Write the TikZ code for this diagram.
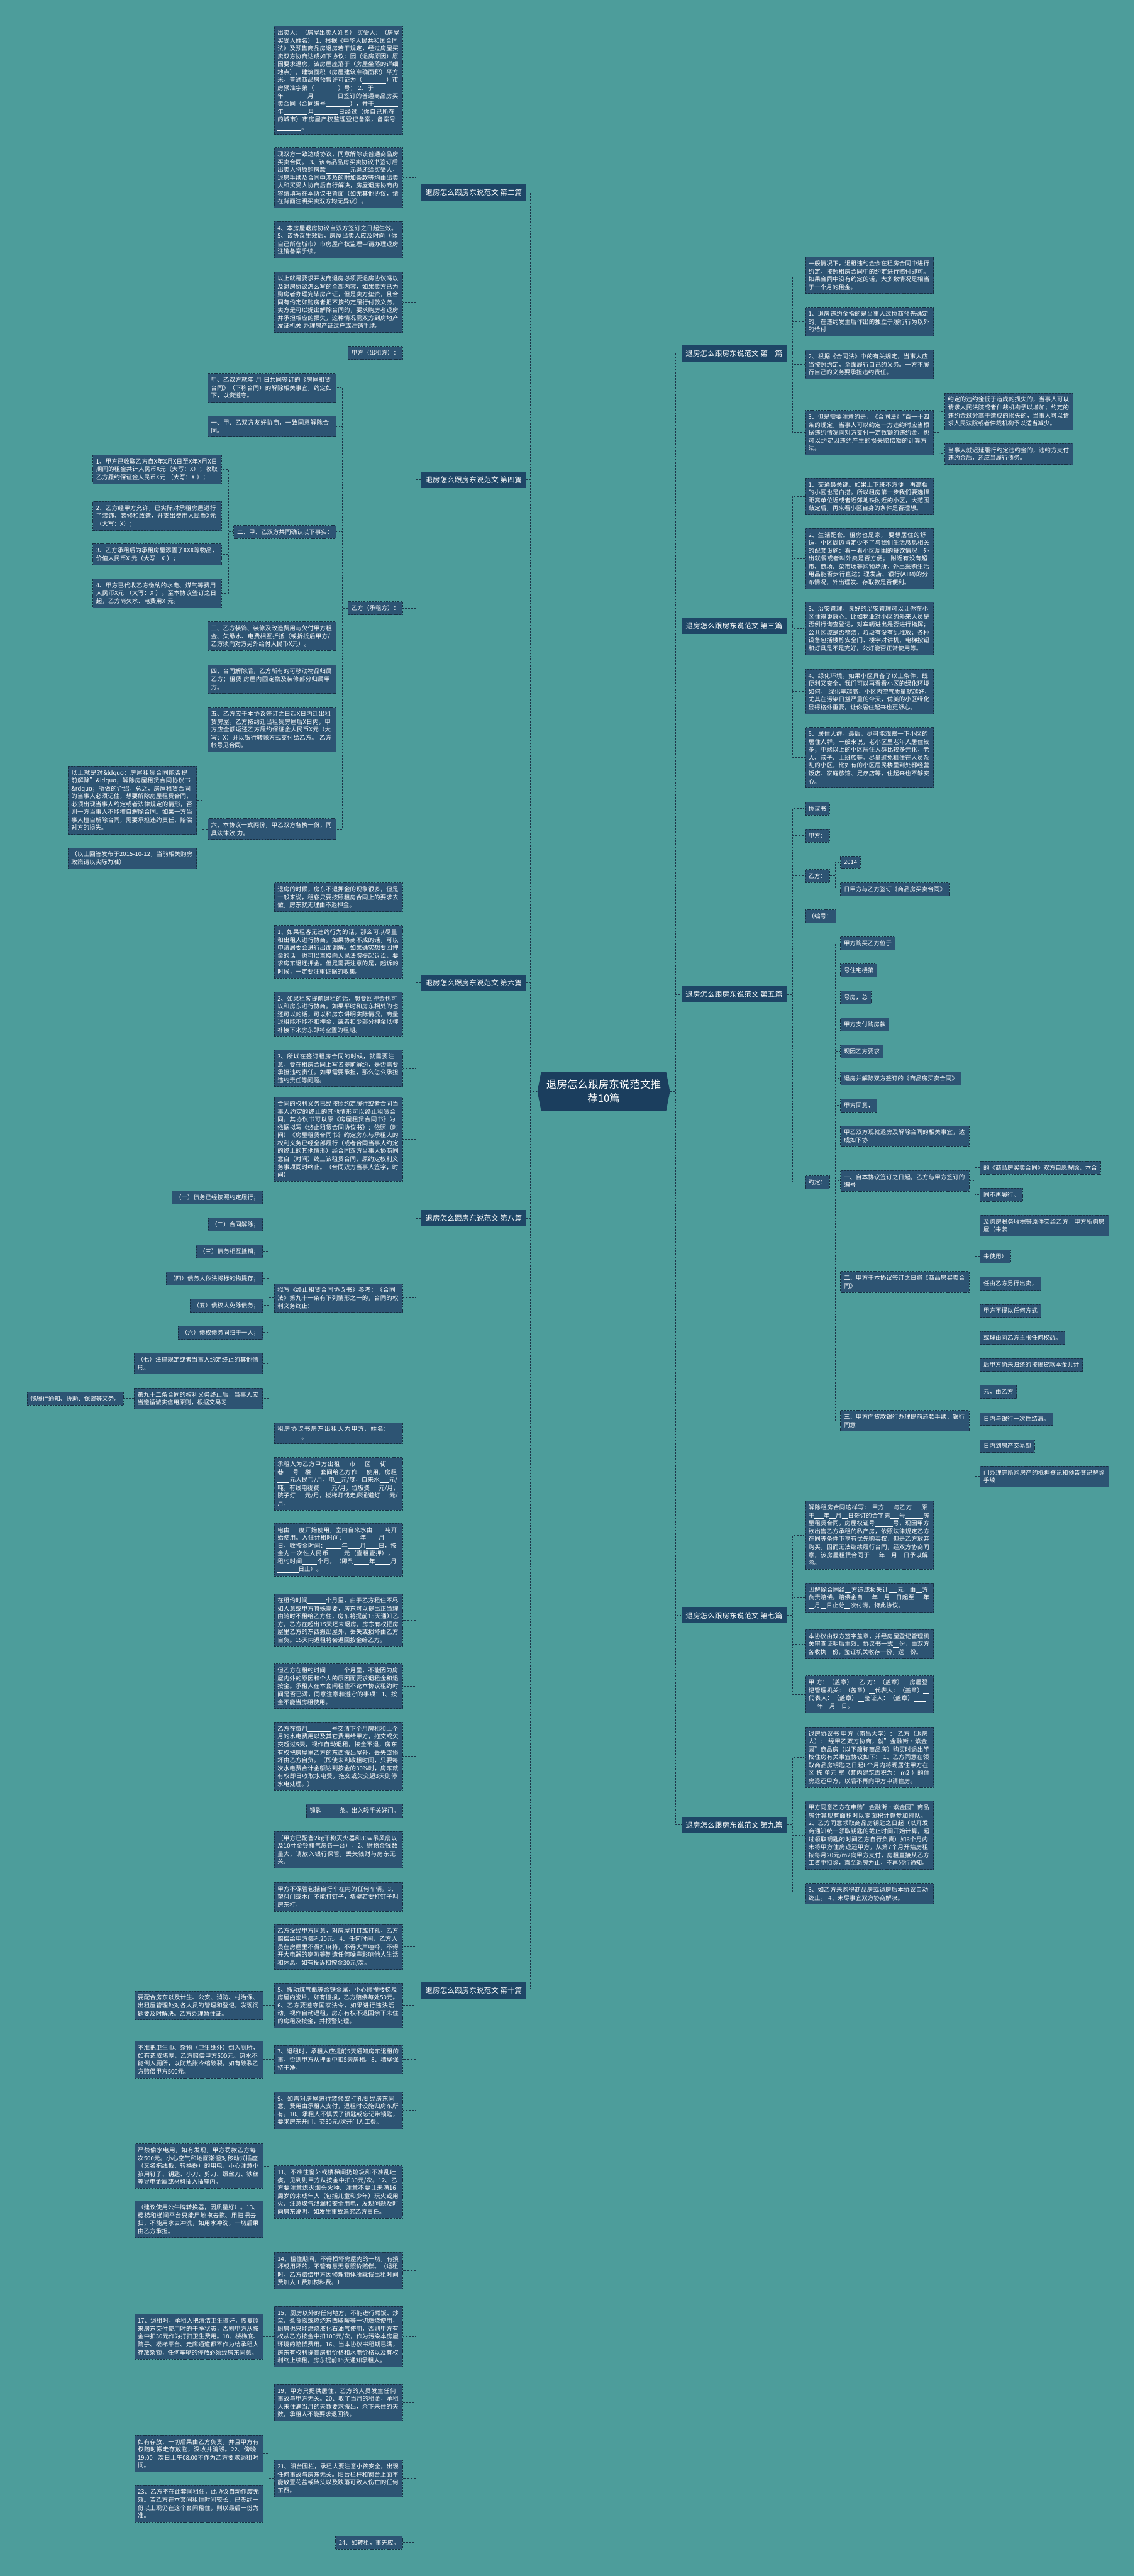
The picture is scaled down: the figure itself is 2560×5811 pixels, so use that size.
\documentclass[tikz,border=0pt]{standalone}
\usepackage{fontspec}
\setmainfont{Noto Sans CJK SC}
\usetikzlibrary{shapes.symbols}
\XeTeXlinebreaklocale "zh"
\XeTeXlinebreakskip=0pt plus 1pt
\newcommand{\fillin}[1]{\hskip0pt plus 1pt\rule[-0.15em]{#1em}{0.06em}\hskip0pt plus 1pt}

\begin{document}
\begin{tikzpicture}[x=0.5pt, y=-0.5pt, line join=round,
    leaf/.style={draw=leafedge, dash pattern=on 2pt off 1.2pt, line width=0.6pt, fill=leafblue, text=white,
        font=\fontsize{6.75}{8.9}\selectfont, inner xsep=3.7pt, inner ysep=4.2pt, align=left},
    para/.style={leaf, text width=137.5pt},
    branch/.style={fill=branchblue, text=white, font=\fontsize{8.25}{10}\selectfont, inner xsep=4.8pt, inner ysep=5.3pt},
    rootnode/.style={shape=signal, signal to=west and east, signal pointer angle=158, fill=rootblue, text=white,
        font=\fontsize{11.75}{15.8}\selectfont, align=center, inner xsep=5.9pt, inner ysep=8.5pt},
    link/.style={draw=linkgray, dash pattern=on 2pt off 1.5pt, line width=0.7pt}]

    % Define custom colors to match the image
    \definecolor{bgteal}{RGB}{77,157,155}
    \definecolor{leafblue}{RGB}{45,84,115}
    \definecolor{leafedge}{RGB}{24,48,68}
    \definecolor{branchblue}{RGB}{30,70,102}
    \definecolor{rootblue}{RGB}{27,62,94}
    \definecolor{linkgray}{RGB}{28,52,72}

    % background
    \fill[bgteal] (0,0) rectangle (2560,5811);
    \useasboundingbox (0,0) rectangle (2560,5811);

    % =======================================================
    % ROOT AND BRANCHES
    % =======================================================
    \node[rootnode] (root) at (1362,2462) {退房怎么跟房东说范文推\\荐10篇};

    \node[branch, anchor=east] (b2) at (1188,434) {退房怎么跟房东说范文 第二篇};
    \node[branch, anchor=east] (b4) at (1188,1082) {退房怎么跟房东说范文 第四篇};
    \node[branch, anchor=east] (b6) at (1188,2217) {退房怎么跟房东说范文 第六篇};
    \node[branch, anchor=east] (b8) at (1188,2748) {退房怎么跟房东说范文 第八篇};
    \node[branch, anchor=east] (b10) at (1188,4490) {退房怎么跟房东说范文 第十篇};

    \node[branch, anchor=west] (b1) at (1537,797) {退房怎么跟房东说范文 第一篇};
    \node[branch, anchor=west] (b3) at (1537,1412) {退房怎么跟房东说范文 第三篇};
    \node[branch, anchor=west] (b5) at (1537,2243) {退房怎么跟房东说范文 第五篇};
    \node[branch, anchor=west] (b7) at (1537,3644) {退房怎么跟房东说范文 第七篇};
    \node[branch, anchor=west] (b9) at (1537,4117) {退房怎么跟房东说范文 第九篇};

    \foreach \kid in {b2,b4,b6,b8,b10} {
        \draw[link] (root.west) -- ++(-15,0) |- (\kid.east);
    }
    \foreach \kid in {b1,b3,b5,b7,b9} {
        \draw[link] (root.east) -- ++(12,0) |- (\kid.west);
    }

    % =======================================================
    % LEFT: 第二篇
    % =======================================================
    \node[para, anchor=east] (b2a) at (909,181) {出卖人：（房屋出卖人姓名） 买受人：（房屋买受人姓名） 1、根据《中华人民共和国合同法》及预售商品房退房若干规定，经过房屋买卖双方协商达成如下协议：因（退房原因）原因要求退房，该房屋座落于（房屋坐落的详细地点），建筑面积（房屋建筑准确面积）平方米，普通商品房预售许可证为（\fillin{4}）市房预准字第（\fillin{4}）号； 2、于\fillin{4}年\fillin{4}月\fillin{4}日签订的普通商品房买卖合同（合同编号\fillin{4}），并于\fillin{4}年\fillin{4}月\fillin{4}日经过（你自己所在的城市）市房屋产权监理登记备案，备案号\fillin{4}。};
    \node[para, anchor=east] (b2b) at (909,401) {现双方一致达成协议，同意解除该普通商品房买卖合同。 3、该商品品房买卖协议书签订后出卖人将原购房款\fillin{4}元退还给买受人，退房手续及合同中涉及的附加条款等均由出卖人和买受人协商后自行解决，房屋退房协商内容请填写在本协议书背面（如无其他协议，请在背面注明买卖双方均无异议）。};
    \node[para, anchor=east] (b2c) at (909,541) {4、本房屋退房协议自双方签订之日起生效。 5、该协议生效后，房屋出卖人应及时向（你自己所在城市）市房屋产权监理申请办理退房注销备案手续。};
    \node[para, anchor=east] (b2d) at (909,682) {以上就是要求开发商退房必须要退房协议吗以及退房协议怎么写的全部内容，如果卖方已为购房者办理完毕房产证，但是卖方垫资，且合同有约定如购房者拒不按约定履行付款义务，卖方是可以提出解除合同的，要求购房者退房并承担相应的损失，这种情况需双方到房地产发证机关 办理房产证过户或注销手续。};
    \foreach \kid in {b2a,b2b,b2c,b2d} {
        \draw[link] (b2.west) -- ++(-12,0) |- (\kid.east);
    }

    % =======================================================
    % LEFT: 第四篇
    % =======================================================
    \node[leaf, anchor=east] (jia4) at (909,796) {甲方（出租方）：};
    \node[leaf, anchor=east] (yi4) at (909,1372) {乙方（承租方）：};
    \foreach \kid in {jia4,yi4} {
        \draw[link] (b4.west) -- ++(-12,0) |- (\kid.east);
    }

    \node[para, anchor=east] (y4a) at (759,875) {甲、乙双方就年 月 日共同签订的《房屋租赁合同》（下称合同）的解除相关事宜，约定如下，以资遵守。};
    \node[para, anchor=east] (y4b) at (759,962) {一、甲、乙双方友好协商，一致同意解除合同。};
    \node[leaf, anchor=east] (y4c) at (759,1200) {二、甲、乙双方共同确认以下事实：};
    \node[para, anchor=east] (y4d) at (759,1435) {三、乙方装饰、装修及改造费用与欠付甲方租金、欠缴水、电费相互折抵（或折抵后甲方/乙方须向对方另外给付人民币X元）。};
    \node[para, anchor=east] (y4e) at (759,1532) {四、合同解除后，乙方所有的可移动物品归属乙方；租赁 房屋内固定物及装修部分归属甲方。};
    \node[para, anchor=east] (y4f) at (759,1646) {五、乙方应于本协议签订之日起X日内迁出租赁房屋。乙方按约迁出租赁房屋后X日内，甲方应全额返还乙方履约保证金人民币X元（大写：X）并以银行转帐方式支付给乙方。 乙方帐号见合同。};
    \node[para, anchor=east] (y4g) at (759,1870) {六、本协议一式两份，甲乙双方各执一份，同具法律效 力。};
    \foreach \kid in {y4a,y4b,y4c,y4d,y4e,y4f,y4g} {
        \draw[link] (yi4.west) -- ++(-12,0) |- (\kid.east);
    }

    \node[para, anchor=east] (e4a) at (500,1059) {1、甲方已收取乙方自X年X月X日至X年X月X日期间的租金共计人民币X元（大写：X）；收取乙方履约保证金人民币X元 （大写：X ）；};
    \node[para, anchor=east] (e4b) at (500,1164) {2、乙方经甲方允许，已实际对承租房屋进行了装饰、装修和改造，并支出费用人民币X元（大写：X）；};
    \node[para, anchor=east] (e4c) at (500,1251) {3、乙方承租后为承租房屋添置了XXX等物品，价值人民币X 元（大写：X ）；};
    \node[para, anchor=east] (e4d) at (500,1338) {4、甲方已代收乙方缴纳的水电、煤气等费用人民币X元 （大写：X ）。至本协议签订之日起，乙方尚欠水、电费用X 元。};
    \foreach \kid in {e4a,e4b,e4c,e4d} {
        \draw[link] (y4c.west) -- ++(-12,0) |- (\kid.east);
    }

    \node[para, anchor=east] (g4a) at (444,1805) {以上就是对\&ldquo；房屋租赁合同能否提前解除"\&ldquo；解除房屋租赁合同协议书\&rdquo；所做的介绍。总之，房屋租赁合同的当事人必须记住，想要解除房屋租赁合同，必须出现当事人约定或者法律规定的情形，否则一方当事人不能擅自解除合同。如果一方当事人擅自解除合同，需要承担违约责任，赔偿对方的损失。};
    \node[para, anchor=east] (g4b) at (444,1936) {（以上回答发布于2015-10-12，当前相关购房政策请以实际为准）};
    \foreach \kid in {g4a,g4b} {
        \draw[link] (y4g.west) -- ++(-12,0) |- (\kid.east);
    }

    % =======================================================
    % LEFT: 第六篇
    % =======================================================
    \node[para, anchor=east] (b6a) at (909,2024) {退房的时候，房东不退押金的现象很多，但是一般来说，租客只要按照租房合同上的要求去做，房东就无理由不退押金。};
    \node[para, anchor=east] (b6b) at (909,2147) {1、如果租客无违约行为的话，那么可以尽量和出租人进行协商。如果协商不成的话，可以申请居委会进行出面调解。如果确实想要回押金的话，也可以直接向人民法院提起诉讼，要求房东退还押金。但是需要注意的是，起诉的时候，一定要注重证据的收集。};
    \node[para, anchor=east] (b6c) at (909,2288) {2、如果租客提前退租的话，想要回押金也可以和房东进行协商。如果平时和房东相处的也还可以的话，可以和房东讲明实际情况，商量退租能不能不扣押金，或者扣少部分押金以弥补接下来房东即将空置的租期。};
    \node[para, anchor=east] (b6d) at (909,2410) {3、所以在签订租房合同的时候，就需要注意。要在租房合同上写名提前解约，是否需要承担违约责任。如果需要承担，那么怎么承担违约责任等问题。};
    \foreach \kid in {b6a,b6b,b6c,b6d} {
        \draw[link] (b6.west) -- ++(-12,0) |- (\kid.east);
    }

    % =======================================================
    % LEFT: 第八篇
    % =======================================================
    \node[para, anchor=east] (b8a) at (909,2570) {合同的权利义务已经按照约定履行或者合同当事人约定的终止的其他情形可以终止租赁合同。其协议书可以原《房屋租赁合同书》为依据拟写《终止租赁合同协议书》：依照（时间）《房屋租赁合同书》约定房东与承租人的权利义务已经全部履行（或者合同当事人约定的终止的其他情形）经合同双方当事人协商同意自（时间）终止该租赁合同，原约定权利义务事项同时终止。（合同双方当事人签字，时间）};
    \node[para, anchor=east] (b8b) at (909,2928) {拟写《终止租赁合同协议书》参考：《合同法》第九十一条有下列情形之一的，合同的权利义务终止：};
    \foreach \kid in {b8a,b8b} {
        \draw[link] (b8.west) -- ++(-12,0) |- (\kid.east);
    }

    \node[leaf, anchor=east] (k1) at (593,2701) {（一）债务已经按照约定履行；};
    \node[leaf, anchor=east] (k2) at (593,2762) {（二）合同解除；};
    \node[leaf, anchor=east] (k3) at (593,2823) {（三）债务相互抵销；};
    \node[leaf, anchor=east] (k4) at (593,2884) {（四）债务人依法将标的物提存；};
    \node[leaf, anchor=east] (k5) at (593,2945) {（五）债权人免除债务；};
    \node[leaf, anchor=east] (k6) at (593,3006) {（六）债权债务同归于一人；};
    \node[para, anchor=east] (k7) at (593,3076) {（七）法律规定或者当事人约定终止的其他情形。};
    \node[para, anchor=east] (k8) at (593,3155) {第九十二条合同的权利义务终止后，当事人应当遵循诚实信用原则，根据交易习};
    \foreach \kid in {k1,k2,k3,k4,k5,k6,k7,k8} {
        \draw[link] (b8b.west) -- ++(-12,0) |- (\kid.east);
    }
    \node[leaf, anchor=east] (k8a) at (279,3155) {惯履行通知、协助、保密等义务。};
    \draw[link] (k8.west) -- (k8a.east);

    % =======================================================
    % LEFT: 第十篇
    % =======================================================
    \node[para, anchor=east] (t01) at (909,3233) {租房协议书房东出租人为甲方，姓名：\fillin{4}。};
    \node[para, anchor=east] (t02) at (909,3347) {承租人为乙方甲方出租\fillin{1.5}市\fillin{1.5}区\fillin{1.5}街\fillin{1.5}巷\fillin{1.5}号\fillin{1}楼\fillin{1.5}套间给乙方作\fillin{1.5}使用，房租\fillin{2}元人民币/月，电\fillin{1}元/度，自来水\fillin{1.5}元/吨。有线电视费\fillin{2}元/月，垃圾费\fillin{1.5}元/月，院子灯\fillin{1.5}元/月，楼梯灯或走廊通道灯\fillin{1.5}元/月。};
    \node[para, anchor=east] (t03) at (909,3496) {电由\fillin{1.5}度开始使用，室内自来水由\fillin{2}吨开始使用。入住计租时间：\fillin{2.5}年\fillin{2}月\fillin{2}日，收按金时间：\fillin{2.5}年\fillin{2}月\fillin{2}日，按金为一次性人民币\fillin{2.5}元（壹租壹押），租约时间\fillin{2.5}个月，（即到\fillin{2.5}年\fillin{2.5}月\fillin{3.5}日止）。};
    \node[para, anchor=east] (t04) at (909,3655) {在租约时间\fillin{3}个月里，由于乙方租住不尽如人意或甲方特殊需要，房东可以提出正当理由随时不租给乙方住，房东将提前15天通知乙方，乙方在超出15天还未退房，房东有权把房屋里乙方的东西搬出屋外，丢失或损坏由乙方自负。15天内退租将会退回按金给乙方。};
    \node[para, anchor=east] (t05) at (909,3804) {但乙方在租约时间\fillin{3}个月里，不能因为房屋内外的原因和个人的原因而要求退租金和退按金。承租人在本套间租住不论本协议租约时间是否已满，同意注意和遵守的事项：1、按金不能当房租使用。};
    \node[para, anchor=east] (t06) at (909,3962) {乙方在每月\fillin{4}号交清下个月房租和上个月的水电费用以及其它费用给甲方，拖交或欠交超过5天，视作自动退租，按金不退，房东有权把房屋里乙方的东西搬出屋外，丢失或损坏由乙方自负。（即使未到收租时间，只要每次水电费合计金额达到按金的30\%时，房东就有权即日收取水电费，拖交或欠交超3天则停水电处理。）};
    \node[leaf, anchor=east] (t07) at (909,4085) {锁匙\fillin{3}条。出入轻手关好门。};
    \node[para, anchor=east] (t08) at (909,4173) {（甲方已配备2kg干粉灭火器和80w吊风扇以及10寸金铃排气扇各一台）。2、财物金钱数量大，请放入银行保管，丢失钱财与房东无关。};
    \node[para, anchor=east] (t09) at (909,4279) {甲方不保管包括自行车在内的任何车辆。3、塑料门或木门不能打钉子，墙壁若要打钉子叫房东打。};
    \node[para, anchor=east] (t10) at (909,4392) {乙方没经甲方同意，对房屋打钉或打孔，乙方赔偿给甲方每孔20元。4、任何时间，乙方人员在房屋里不得打麻将，不得大声喧哗，不得开大电器的喇叭等制造任何噪声影响他人生活和休息，如有投诉扣按金30元/次。};
    \node[para, anchor=east] (t11) at (909,4524) {5、搬动煤气瓶等含铁金属，小心碰撞楼梯及房屋内瓷片，如有撞损，乙方赔偿每处50元。6、乙方要遵守国家法令，如果进行违法活动，视作自动退租，房东有权不退回余下未住的房租及按金，并报警处理。};
    \node[para, anchor=east] (t12) at (909,4646) {7、退租时，承租人应提前5天通知房东退租的事，否则甲方从押金中扣5天房租。8、墙壁保持干净。};
    \node[para, anchor=east] (t13) at (909,4761) {9、如需对房屋进行装修或打孔要经房东同意，费用由承租人支付，退租时设施归房东所有。10、承租人不慎丢了锁匙或忘记带锁匙，要求房东开门，交30元/次开门人工费。};
    \node[para, anchor=east] (t14) at (909,4945) {11、不准往窗外或楼梯间扔垃圾和不准乱吐痰，见到则甲方从按金中扣30元/次。12、乙方要注意熄灭烟头火种、注意不要让未满16周岁的未成年人（包括儿童和少年）玩火或用火、注意煤气泄漏和安全用电，发现问题及时向房东说明，如发生事故追究乙方责任。};
    \node[para, anchor=east] (t15) at (909,5122) {14、租住期间，不得损坏房屋内的一切，有损坏或用坏的，不管有意无意照价赔偿。（退租时，乙方赔偿甲方因修理物体所耽误出租时间费加人工费加材料费。）};
    \node[para, anchor=east] (t16) at (909,5271) {15、厨房以外的任何地方，不能进行煮饭、炒菜、煮食物或燃烧东西取暖等一切燃烧使用，厨房也只能燃烧液化石油气使用，否则甲方有权从乙方按金中扣100元/次，作为污染本房屋环境的赔偿费用。16、当本协议书租期已满，房东有权利提高房租价格和水电价格以及有权利终止续租，房东提前15天通知承租人。};
    \node[para, anchor=east] (t17) at (909,5420) {19、甲方只提供居住，乙方的人员发生任何事故与甲方无关。20、收了当月的租金，承租人未住满当月的天数要求搬出，余下未住的天数，承租人不能要求退回钱。};
    \node[para, anchor=east] (t18) at (909,5591) {21、阳台围栏，承租人要注意小孩安全，出现任何事故与房东无关。阳台栏杆和窗台上面不能放置花盆或砖头以及跌落可致人伤亡的任何东西。};
    \node[leaf, anchor=east] (t19) at (909,5735) {24、如转租，事先应。};
    \foreach \kid in {t01,t02,t03,t04,t05,t06,t07,t08,t09,t10,t11,t12,t13,t14,t15,t16,t17,t18,t19} {
        \draw[link] (b10.west) -- ++(-12,0) |- (\kid.east);
    }

    \node[para, anchor=east] (t11a) at (594,4524) {要配合房东以及计生、公安、消防、村治保、出租屋管理处对各人员的管理和登记，发现问题要及时解决。乙方办理暂住证。};
    \node[para, anchor=east] (t12a) at (594,4646) {不准把卫生巾、杂物（卫生纸外）倒入厕所，如有造成堵塞，乙方赔偿甲方500元。热水不能倒入厕所，以防热胀冷缩破裂，如有破裂乙方赔偿甲方500元。};
    \node[para, anchor=east] (t14a) at (594,4886) {严禁偷水电用，如有发现，甲方罚款乙方每次500元。小心空气和地面潮湿对移动式插座（又名拖线板、转换器）的用电，小心注意小孩用钉子、钥匙、小刀、剪刀、螺丝刀、铁丝等导电金属或材料插入插座内。};
    \node[para, anchor=east] (t14b) at (594,5006) {（建议使用公牛牌转换器，因质量好）。13、楼梯和梯间平台只能用地拖去拖、用扫把去扫，不能用水去冲洗，如用水冲洗，一切后果由乙方承担。};
    \node[para, anchor=east] (t16a) at (594,5271) {17、退租时，承租人把清洁卫生搞好，恢复原来房东交付使用时的干净状态，否则甲方从按金中扣30元作为打扫卫生费用。18、楼梯底、院子、楼梯平台、走廊通道都不作为给承租人存放杂物，任何车辆的停放必须经房东同意。};
    \node[para, anchor=east] (t18a) at (594,5535) {如有存放，一切后果由乙方负责，并且甲方有权随时搬走存放物，没收并消毁。22、傍晚19:00—次日上午08:00不作为乙方要求退租时间。};
    \node[para, anchor=east] (t18b) at (594,5648) {23、乙方不在此套间租住，此协议自动作废无效。若乙方在本套间租住时间较长，已签约一份以上现仍在这个套间租住，则以最后一份为准。};
    \draw[link] (t11.west) -- (t11a.east);
    \draw[link] (t12.west) -- (t12a.east);
    \draw[link] (t16.west) -- (t16a.east);
    \foreach \kid in {t14a,t14b} {
        \draw[link] (t14.west) -- ++(-12,0) |- (\kid.east);
    }
    \foreach \kid in {t18a,t18b} {
        \draw[link] (t18.west) -- ++(-12,0) |- (\kid.east);
    }

    % =======================================================
    % RIGHT: 第一篇
    % =======================================================
    \node[para, anchor=west] (b1a) at (1816,621) {一般情况下，退租违约金会在租房合同中进行约定，按照租房合同中的约定进行赔付即可。如果合同中没有约定的话，大多数情况是相当于一个月的租金。};
    \node[para, anchor=west] (b1b) at (1816,726) {1、退房违约金指的是当事人过协商预先确定的，在违约发生后作出的独立于履行行为以外的给付};
    \node[para, anchor=west] (b1c) at (1816,822) {2、根据《合同法》中的有关规定，当事人应当按照约定，全面履行自己的义务。一方不履行自己的义务要承担违约责任。};
    \node[para, anchor=west] (b1d) at (1816,976) {3、但是需要注意的是，《合同法》*百一十四条的规定，当事人可以约定一方违约时应当根据违约情况向对方支付一定数额的违约金，也可以约定因违约产生的损失赔偿额的计算方法。};
    \foreach \kid in {b1a,b1b,b1c,b1d} {
        \draw[link] (b1.east) -- ++(13,0) |- (\kid.west);
    }
    \node[para, anchor=west] (b1d1) at (2131,928) {约定的违约金低于造成的损失的，当事人可以请求人民法院或者仲裁机构予以增加；约定的违约金过分高于造成的损失的，当事人可以请求人民法院或者仲裁机构予以适当减少。};
    \node[para, anchor=west] (b1d2) at (2131,1024) {当事人就迟延履行约定违约金的，违约方支付违约金后，还应当履行债务。};
    \foreach \kid in {b1d1,b1d2} {
        \draw[link] (b1d.east) -- ++(12,0) |- (\kid.west);
    }

    % =======================================================
    % RIGHT: 第三篇
    % =======================================================
    \node[para, anchor=west] (b3a) at (1816,1120) {1、交通最关键。如果上下班不方便，再高档的小区也是白搭。所以租房第一步我们要选择距离单位近或者近郊地铁附近的小区，大范围敲定后，再来看小区自身的条件是否理想。};
    \node[para, anchor=west] (b3b) at (1816,1260) {2、生活配套。租房也是家， 要想居住的舒适，小区周边肯定少不了与我们生活息息相关的配套设施：看一看小区周围的餐饮情况，外出就餐或者叫外卖是否方便； 附近有没有超市、商场、菜市场等购物场所，外出采购生活用品能否步行直达；理发店、银行(ATM)的分布情况，外出理发、存取款是否便利。};
    \node[para, anchor=west] (b3c) at (1816,1418) {3、治安管理。良好的治安管理可以让你在小区住得更放心。比如物业对小区的外来人员是否例行询查登记，对车辆进出是否进行指挥；公共区域是否整洁，垃圾有没有乱堆放；各种设备包括楼栋安全门、楼宇对讲机、电梯按钮和灯具是不是完好，公灯能否正常使用等。};
    \node[para, anchor=west] (b3d) at (1816,1560) {4、绿化环境。如果小区具备了以上条件，既便利又安全，我们可以再看看小区的绿化环境如何。 绿化率越高，小区内空气质量就越好，尤其在污染日益严重的今天，优美的小区绿化显得格外重要，让你居住起来也更舒心。};
    \node[para, anchor=west] (b3e) at (1816,1709) {5、居住人群。最后，尽可能观察一下小区的居住人群。一般来说，老小区里老年人居住较多；中端以上的小区居住人群比较多元化，老人、孩子、上班族等。尽量避免租住在人员杂乱的小区，比如有的小区居民楼里到处都经营饭店、家庭旅馆、足疗店等，住起来也不够安心。};
    \foreach \kid in {b3a,b3b,b3c,b3d,b3e} {
        \draw[link] (b3.east) -- ++(13,0) |- (\kid.west);
    }

    % =======================================================
    % RIGHT: 第五篇
    % =======================================================
    \node[leaf, anchor=west] (b5a) at (1816,1824) {协议书};
    \node[leaf, anchor=west] (b5b) at (1816,1885) {甲方：};
    \node[leaf, anchor=west] (b5c) at (1816,1976) {乙方：};
    \node[leaf, anchor=west] (b5d) at (1816,2067) {（编号：};
    \node[leaf, anchor=west] (b5e) at (1816,2667) {约定：};
    \foreach \kid in {b5a,b5b,b5c,b5d,b5e} {
        \draw[link] (b5.east) -- ++(13,0) |- (\kid.west);
    }
    \node[leaf, anchor=west] (c1) at (1896,1945) {2014};
    \node[leaf, anchor=west] (c2) at (1896,2006) {日甲方与乙方签订《商品房买卖合同》};
    \foreach \kid in {c1,c2} {
        \draw[link] (b5c.east) -- ++(12,0) |- (\kid.west);
    }

    \node[leaf, anchor=west] (d1) at (1896,2128) {甲方购买乙方位于};
    \node[leaf, anchor=west] (d2) at (1896,2189) {号住宅楼第};
    \node[leaf, anchor=west] (d3) at (1896,2250) {号房，总};
    \node[leaf, anchor=west] (d4) at (1896,2311) {甲方支付购房款};
    \node[leaf, anchor=west] (d5) at (1896,2372) {现因乙方要求};
    \node[leaf, anchor=west] (d6) at (1896,2433) {退房并解除双方签订的《商品房买卖合同》};
    \node[leaf, anchor=west] (d7) at (1896,2494) {甲方同意，};
    \node[para, anchor=west] (d8) at (1896,2563) {甲乙双方现就退房及解除合同的相关事宜，达成如下协};
    \node[para, anchor=west] (d9) at (1896,2664) {一、自本协议签订之日起，乙方与甲方签订的编号};
    \node[para, anchor=west] (d10) at (1896,2892) {二、甲方于本协议签订之日将《商品房买卖合同》};
    \node[para, anchor=west] (d11) at (1896,3205) {三、甲方向贷款银行办理提前还款手续，银行同意};
    \foreach \kid in {d1,d2,d3,d4,d5,d6,d7,d8,d9,d10,d11} {
        \draw[link] (b5e.east) -- ++(12,0) |- (\kid.west);
    }

    \node[leaf, anchor=west] (f1) at (2211,2634) {的《商品房买卖合同》双方自愿解除，本合};
    \node[leaf, anchor=west] (f2) at (2211,2695) {同不再履行。};
    \foreach \kid in {f1,f2} {
        \draw[link] (d9.east) -- ++(12,0) |- (\kid.west);
    }
    \node[para, anchor=west] (h1) at (2211,2765) {及购房税务收据等原件交给乙方，甲方所购房屋（未装};
    \node[leaf, anchor=west] (h2) at (2211,2834) {未使用）};
    \node[leaf, anchor=west] (h3) at (2211,2896) {任由乙方另行出卖，};
    \node[leaf, anchor=west] (h4) at (2211,2957) {甲方不得以任何方式};
    \node[leaf, anchor=west] (h5) at (2211,3018) {或理由向乙方主张任何权益。};
    \foreach \kid in {h1,h2,h3,h4,h5} {
        \draw[link] (d10.east) -- ++(12,0) |- (\kid.west);
    }
    \node[leaf, anchor=west] (m1) at (2211,3079) {后甲方尚未归还的按揭贷款本金共计};
    \node[leaf, anchor=west] (m2) at (2211,3140) {元，由乙方};
    \node[leaf, anchor=west] (m3) at (2211,3201) {日内与银行一次性结清。};
    \node[leaf, anchor=west] (m4) at (2211,3262) {日内到房产交易部};
    \node[para, anchor=west] (m5) at (2211,3331) {门办理完所购房产的抵押登记和预告登记解除手续};
    \foreach \kid in {m1,m2,m3,m4,m5} {
        \draw[link] (d11.east) -- ++(12,0) |- (\kid.west);
    }

    % =======================================================
    % RIGHT: 第七篇
    % =======================================================
    \node[para, anchor=west] (b7a) at (1816,3463) {解除租房合同这样写： 甲方\fillin{1.5}与乙方\fillin{1.5}原于\fillin{1.5}年\fillin{1}月\fillin{1}日签订的合字第\fillin{1.5}号\fillin{3}房屋租赁合同，房屋权证号\fillin{3}号，现因甲方欲出售乙方承租的私产房，依照法律规定乙方在同等条件下享有优先购买权，但是乙方放弃购买，因而无法继续履行合同，经双方协商同意，该房屋租赁合同于\fillin{1.5}年\fillin{1}月\fillin{1}日予以解除。};
    \node[para, anchor=west] (b7b) at (1816,3604) {因解除合同给\fillin{1}方造成损失计\fillin{1.5}元，由\fillin{1}方负责赔偿。赔偿金自\fillin{1.5}年\fillin{1}月\fillin{1}日起至\fillin{1.5}年\fillin{1}月\fillin{1}日止分\fillin{1}次付清，特此协议。};
    \node[para, anchor=west] (b7c) at (1816,3709) {本协议由双方签字盖章，并经房屋登记管理机关审查证明后生效。协议书一式\fillin{1}份，由双方各收执\fillin{1}份，鉴证机关收存一份，送\fillin{1}份。};
    \node[para, anchor=west] (b7d) at (1816,3822) {甲 方：（盖章）\fillin{1} 乙 方：（盖章）\fillin{1} 房屋登记管理机关：（盖章）\fillin{1} 代表人：（盖章）\fillin{1} 代表人：（盖章）\fillin{1} 鉴证人：（盖章）\fillin{2} \fillin{1.5}年\fillin{1}月\fillin{1}日。};
    \foreach \kid in {b7a,b7b,b7c,b7d} {
        \draw[link] (b7.east) -- ++(13,0) |- (\kid.west);
    }

    % =======================================================
    % RIGHT: 第九篇
    % =======================================================
    \node[para, anchor=west] (b9a) at (1816,3964) {退房协议书 甲方（南昌大学）： 乙方（退房人）： 经甲乙双方协商，就"金融街•紫金园"商品房（以下简称商品房）购买时退出学校住房有关事宜协议如下： 1、乙方同意在领取商品房钥匙之日起6个月内将现居住甲方在 区 栋 单元 室（套内建筑面积为： m2 ）的住房退还甲方，以后不再向甲方申请住房。};
    \node[para, anchor=west] (b9b) at (1816,4140) {甲方同意乙方在申购"金融街•紫金园"商品房计算现有面积时以零面积计算参加排队。 2、乙方同意领取商品房钥匙之日起（以开发商通知统一领取钥匙的截止时间开始计算，超过领取钥匙的时间乙方自行负责）如6个月内未将甲方住房退还甲方，从第7个月开始房租按每月20元/m2向甲方支付，房租直接从乙方工资中扣除，直至退房为止，不再另行通知。};
    \node[para, anchor=west] (b9c) at (1816,4272) {3、如乙方未购得商品房或退房后本协议自动终止。 4、未尽事宜双方协商解决。};
    \foreach \kid in {b9a,b9b,b9c} {
        \draw[link] (b9.east) -- ++(13,0) |- (\kid.west);
    }

\end{tikzpicture}
\end{document}
